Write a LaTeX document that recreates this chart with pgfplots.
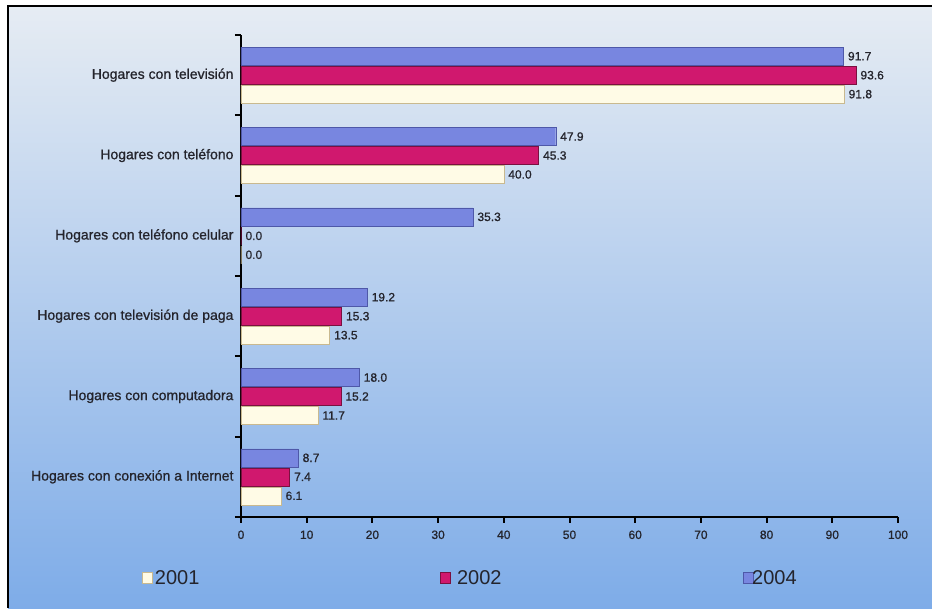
\documentclass[border=0pt]{standalone}
\usepackage{pgfplots}
\pgfplotsset{compat=1.18}
\usepackage{fontspec}
\setmainfont{Liberation Sans}
\newfontfamily\lbl{Liberation Sans}[FakeBold=0.9]

\definecolor{bgtop}{HTML}{E6ECF3}
\definecolor{bgmid}{HTML}{B6CDEE}
\definecolor{bgbot}{HTML}{7EACE8}
\definecolor{c2001}{HTML}{FFFBE6}
\definecolor{c2001e}{HTML}{C9B98F}
\definecolor{c2002}{HTML}{D0186E}
\definecolor{c2002e}{HTML}{7A1040}
\definecolor{c2004}{HTML}{7886E0}
\definecolor{c2004e}{HTML}{4E58A8}
\definecolor{txt}{HTML}{24242C}

\begin{document}
\begin{tikzpicture}[x=1pt,y=1pt]
\useasboundingbox (0,0) rectangle (932,608);
\fill[white] (0,0) rectangle (932,608);
% panel background with vertical gradient and frame
\shade[top color=bgtop, middle color=bgmid, bottom color=bgbot] (8,0) rectangle (932,602);
\draw[line width=2pt] (8,0) -- (8,602) -- (932,602);

\begin{axis}[
  at={(241pt,91pt)}, anchor=south west,
  scale only axis, width=657pt, height=482pt,
  xmin=0, xmax=100, ymin=-0.5, ymax=5.5,
  xbar, bar width=0.225,
  axis x line*=bottom, axis y line*=left,
  axis line style={line width=2.8pt, black},
  /pgf/number format/assume math mode=true,
  xtick={0,10,...,100},
  xticklabel style={font=\lbl\fontsize{12}{14}\selectfont, text=txt, yshift=-4pt},
  major tick length=6pt,
  tick style={line width=2pt, black},
  tick align=outside,
  ytick={-0.5,0.5,...,5.5},
  yticklabels={},
  extra y ticks={0,1,2,3,4,5},
  extra y tick labels={Hogares con conexión a Internet, Hogares con computadora, Hogares con televisión de paga, Hogares con teléfono celular, Hogares con teléfono, Hogares con televisión},
  extra y tick style={major tick length=0pt, tick style={draw=none},
    yticklabel style={font=\lbl\fontsize{14}{16}\selectfont, text=txt, xshift=-4pt}},
  nodes near coords,
  nodes near coords style={anchor=west, xshift=1pt, font=\lbl\fontsize{12}{14}\selectfont, text=txt,
    /pgf/number format/.cd, fixed, fixed zerofill, precision=1},
  legend columns=3,
  legend style={at={(-0.155,-0.127)}, anchor=west, draw=none, fill=none,
    font=\fontsize{20}{23}\selectfont, text=txt,
    /tikz/every even column/.append style={column sep=239pt}},
  legend image code/.code={\draw[#1, line width=0.6pt] (0pt,-5.5pt) rectangle (10pt,5.5pt);},
]
\addplot[fill=c2001, draw=c2001e, bar shift=-0.236] coordinates
  {(91.8,5) (40.0,4) (0.0,3) (13.5,2) (11.7,1) (6.1,0)};
\addlegendentry{2001}
\addplot[fill=c2002, draw=c2002e, bar shift=0] coordinates
  {(93.6,5) (45.3,4) (0.0,3) (15.3,2) (15.2,1) (7.4,0)};
\addlegendentry{\hspace{4pt}2002\hspace{37pt}}
\addplot[fill=c2004, draw=c2004e, bar shift=0.236] coordinates
  {(91.7,5) (47.9,4) (35.3,3) (19.2,2) (18.0,1) (8.7,0)};
\addlegendentry{\hspace{-3pt}2004}
\end{axis}
\end{tikzpicture}
\end{document}
